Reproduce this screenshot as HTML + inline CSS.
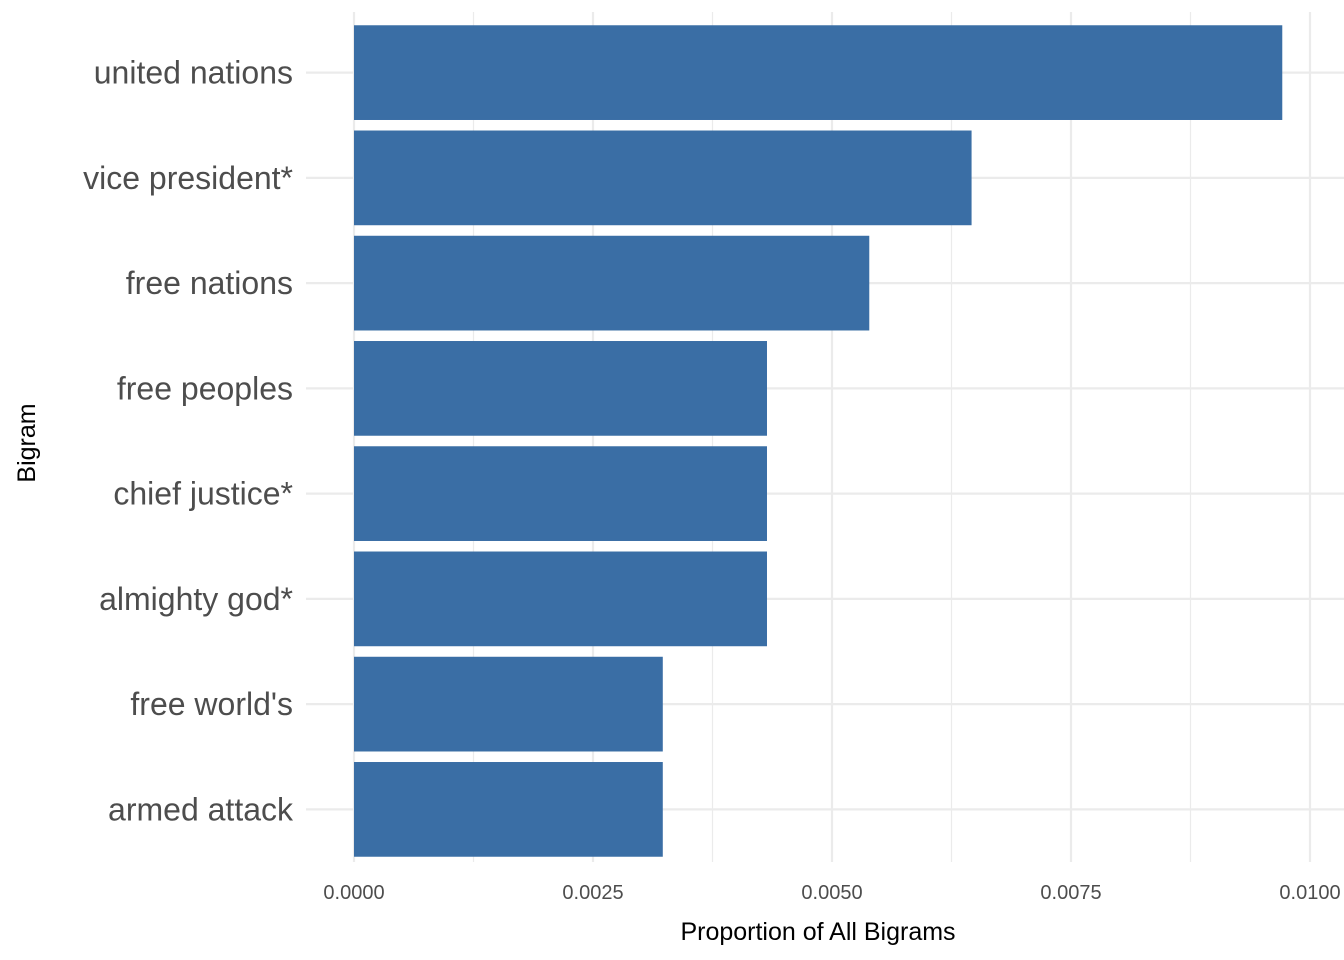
<!DOCTYPE html>
<html><head><meta charset="utf-8"><style>
body{margin:0;background:#fff;}
svg{display:block;font-family:"Liberation Sans",Arial,sans-serif;}
</style></head><body>
<svg id="chart" width="1344" height="960"></svg>
<script>
const categories=["united nations","vice president*","free nations","free peoples","chief justice*","almighty god*","free world's","armed attack"];
const values=[0.00971,0.00646,0.00539,0.00432,0.00432,0.00432,0.00323,0.00323];
const majorTicks=[0,0.0025,0.005,0.0075,0.01];
const tickLabels=["0.0000","0.0025","0.0050","0.0075","0.0100"];
const minorTicks=[0.00125,0.00375,0.00625,0.00875];
const NS="http://www.w3.org/2000/svg";
const svgEl=document.getElementById('chart');
const x0=354,pxPer=95600;
const xs=v=>x0+v*pxPer;
const yTop=20,yBottom=862,step=(yBottom-yTop)/categories.length;
const yc=i=>yTop+step*(i+0.5);
function el(t,a){const e=document.createElementNS(NS,t);for(const k in a)e.setAttribute(k,a[k]);svgEl.appendChild(e);return e;}
minorTicks.forEach(v=>{const l=el('line',{x1:xs(v),x2:xs(v),y1:yTop-8,y2:yBottom,stroke:'#ebebeb','stroke-width':1.2});

});
majorTicks.forEach(v=>{const l=el('line',{x1:xs(v),x2:xs(v),y1:yTop-8,y2:yBottom,stroke:'#ebebeb','stroke-width':2.2});

});
categories.forEach((c,i)=>{const l=el('line',{x1:306,x2:1344,y1:yc(i),y2:yc(i),stroke:'#ebebeb','stroke-width':2.2});

});
categories.forEach((c,i)=>{
const bh=step*0.9;
const r=el('rect',{x:xs(0),y:yc(i)-bh/2,width:xs(values[i])-xs(0),height:bh,fill:'#3a6ea5'});


const t=el('text',{x:293,y:yc(i)+11,'text-anchor':'end','font-size':32,fill:'#4d4d4d'});t.textContent=c;


});
majorTicks.forEach((v,i)=>{const t=el('text',{x:xs(v),y:899,'text-anchor':'middle','font-size':20,fill:'#4d4d4d'});t.textContent=tickLabels[i];

});
const xt=el('text',{x:818,y:940,'text-anchor':'middle','font-size':25,fill:'#000'});xt.textContent="Proportion of All Bigrams";


const yt=el('text',{x:0,y:0,transform:'translate(35,443) rotate(-90)','text-anchor':'middle','font-size':25,fill:'#000'});yt.textContent="Bigram";


</script>
</body></html>
